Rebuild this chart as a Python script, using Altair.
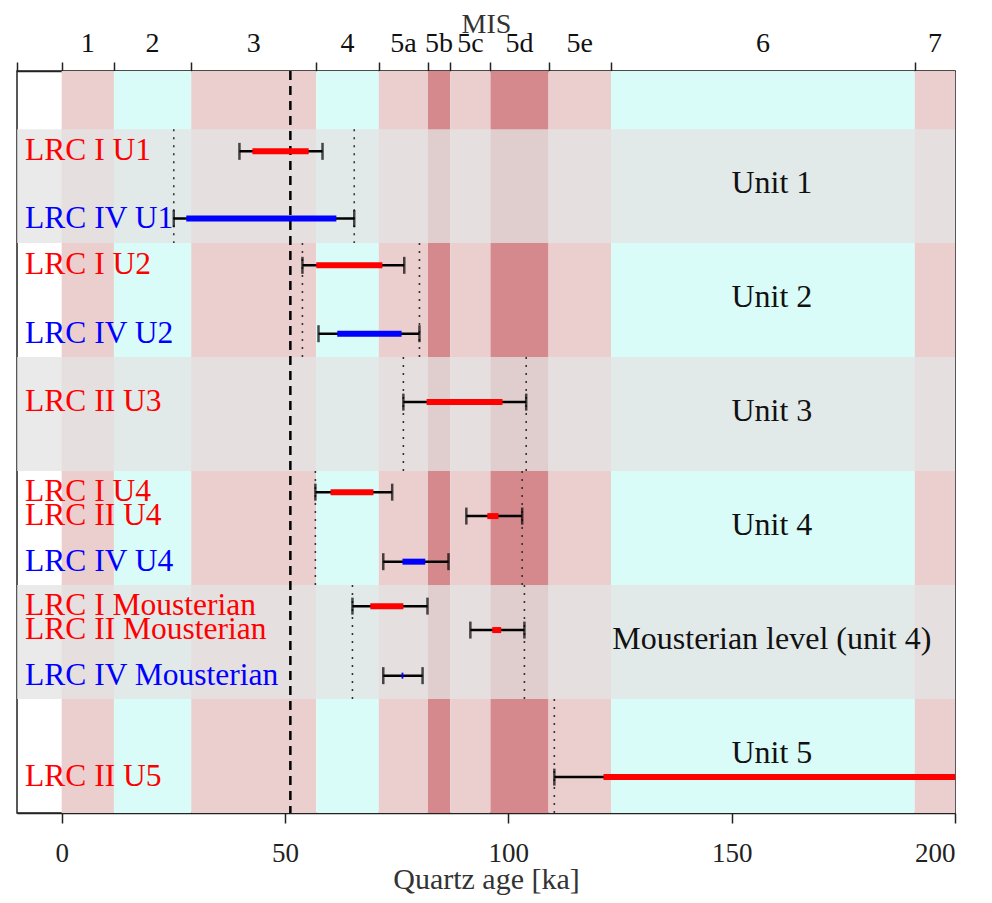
import altair as alt
import pandas as pd

# Marine isotope stages (top axis)
mis_labels = ["1", "2", "3", "4", "5a", "5b", "5c", "5d", "5e", "6", "7"]
mis_start = [0, 11.7, 29, 57, 71, 82, 87, 96, 109, 123, 191]
mis_end = [11.7, 29, 57, 71, 82, 87, 96, 109, 123, 191, 200]
mis_kind = ["warm", "cold", "warm", "cold", "warm", "dark", "warm", "dark", "warm", "cold", "warm"]
mis_ticks = [-10, 0, 11.7, 29, 57, 71, 82, 87, 96, 109, 123, 191]

# Samples
sample_labels = ["LRC I U1", "LRC IV U1", "LRC I U2", "LRC IV U2", "LRC II U3",
                 "LRC I U4", "LRC II U4", "LRC IV U4",
                 "LRC I Mousterian", "LRC II Mousterian", "LRC IV Mousterian",
                 "LRC II U5"]
sample_site = ["I", "IV", "I", "IV", "II", "I", "II", "IV", "I", "II", "IV", "II"]
sample_unit = ["Unit 1", "Unit 1", "Unit 2", "Unit 2", "Unit 3",
               "Unit 4", "Unit 4", "Unit 4",
               "Mousterian level (unit 4)", "Mousterian level (unit 4)", "Mousterian level (unit 4)",
               "Unit 5"]
row_pos = [0.705, 1.295, 1.705, 2.305, 2.905, 3.695, 3.905, 4.305, 4.695, 4.905, 5.305, 6.195]
outer_lo = [39.8, 25.1, 53.9, 57.5, 76.5, 56.8, 90.6, 72.0, 65.1, 91.5, 72.0, 110.3]
outer_hi = [58.4, 65.5, 76.7, 80.1, 104.0, 74.0, 103.1, 86.6, 81.9, 103.6, 80.8, 240.0]
inner_lo = [42.7, 27.9, 57.0, 61.7, 81.7, 60.2, 95.3, 76.3, 69.1, 96.4, 76.1, 121.3]
inner_hi = [55.3, 61.5, 71.8, 76.1, 98.7, 69.8, 97.8, 81.4, 76.5, 98.4, 76.5, 230.0]

# Stratigraphic units (row bands)
units = ["Unit 1", "Unit 2", "Unit 3", "Unit 4", "Mousterian level (unit 4)", "Unit 5"]
unit_top = [0.51, 1.51, 2.51, 3.51, 4.51, 5.51]
unit_bottom = [1.51, 2.51, 3.51, 4.51, 5.51, 6.51]
unit_shaded = ["yes", "no", "yes", "no", "yes", "no"]
unit_label_age = 159

reference_age = [51.2]

mis_df = pd.DataFrame({"label": mis_labels, "start": mis_start, "end": mis_end, "kind": mis_kind})
samples = pd.DataFrame({"label": sample_labels, "site": sample_site, "unit": sample_unit,
                        "row": row_pos, "lo": outer_lo, "hi": outer_hi,
                        "ilo": inner_lo, "ihi": inner_hi})
units_df = pd.DataFrame({"unit": units, "top": unit_top, "bottom": unit_bottom, "shaded": unit_shaded})
units_df["mid"] = (units_df["top"] + units_df["bottom"]) / 2 - 0.03
units_df["age"] = unit_label_age

bounds = samples.groupby("unit").agg(lo=("lo", "min"), hi=("hi", "max")).reset_index()
bounds = bounds.merge(units_df, on="unit")
dotted = pd.concat([
    bounds[["unit", "top", "bottom"]].assign(x=bounds["lo"]),
    bounds[["unit", "top", "bottom"]].assign(x=bounds["hi"]),
])

FONT = "Liberation Serif"
xscale = alt.Scale(domain=[-10, 200], nice=False, zero=False)
yscale = alt.Scale(domain=[0, 6.51], reverse=True, nice=False, zero=False)
site_color = alt.Scale(domain=["I", "II", "IV"], range=["#ff0000", "#ff0000", "#0000ff"])

bands = alt.Chart(mis_df).mark_rect().encode(
    x=alt.X("start:Q", scale=xscale,
            axis=alt.Axis(orient="top", values=mis_ticks, labels=False, tickSize=9,
                          tickWidth=1.5, tickColor="#222", domainColor="#222", domainWidth=1.5,
                          grid=False, title="MIS", titleFont=FONT, titleFontSize=28,
                          titleFontWeight="normal", titleColor="#333",
                          titleY=-39, titleBaseline="alphabetic")),
    x2="end:Q",
    color=alt.Color("kind:N", scale=alt.Scale(domain=["warm", "cold", "dark"],
                                             range=["#ebcfcf", "#dafcf8", "#d5898d"]), legend=None),
)

mis_text = alt.Chart(mis_df).transform_calculate(
    center="(datum.start + datum.end) / 2"
).mark_text(font=FONT, fontSize=28, baseline="alphabetic", color="#111").encode(
    x=alt.X("center:Q", scale=xscale, axis=None),
    y=alt.value(-19),
    text="label:N",
)

shade = alt.Chart(units_df).transform_filter("datum.shaded == 'yes'").mark_rect(
    color="#e3e3e3", opacity=0.76
).encode(
    y=alt.Y("top:Q", scale=yscale, axis=None),
    y2="bottom:Q",
)

dots = alt.Chart(dotted).mark_rule(color="#333", strokeWidth=1.6, strokeDash=[2, 6], clip=True).encode(
    x=alt.X("x:Q", scale=xscale, axis=None),
    y=alt.Y("top:Q", scale=yscale, axis=None),
    y2="bottom:Q",
)

dash = alt.Chart(pd.DataFrame({"age": reference_age})).mark_rule(
    color="black", strokeWidth=2.5, strokeDash=[9, 6]
).encode(
    x=alt.X("age:Q", scale=xscale,
            axis=alt.Axis(orient="bottom", values=[0, 50, 100, 150, 200], tickSize=10,
                          tickWidth=1.5, tickColor="#222", domainColor="#222", domainWidth=1.5,
                          grid=False, labelFont=FONT, labelFontSize=27, labelColor="#222",
                          labelPadding=17, title="Quartz age [ka]", titleFont=FONT,
                          titleFontSize=30, titleFontWeight="normal", titleColor="#333",
                          titleY=75, titleBaseline="alphabetic")),
)

whisk = alt.Chart(samples).mark_rule(color="black", strokeWidth=2.5, clip=True).encode(
    x=alt.X("lo:Q", scale=xscale, axis=None),
    x2="hi:Q",
    y=alt.Y("row:Q", scale=yscale, axis=None),
)

caps = alt.Chart(samples).transform_fold(["lo", "hi"], as_=["end", "val"]).mark_tick(
    color="black", size=17, thickness=2.5, orient="vertical", clip=True
).encode(
    x=alt.X("val:Q", scale=xscale, axis=None),
    y=alt.Y("row:Q", scale=yscale, axis=None),
)

inner = alt.Chart(samples).mark_rule(strokeWidth=6, clip=True).encode(
    x=alt.X("ilo:Q", scale=xscale, axis=None),
    x2="ihi:Q",
    y=alt.Y("row:Q", scale=yscale, axis=None),
    color=alt.Color("site:N", scale=site_color, legend=None),
)

names = alt.Chart(samples).mark_text(font=FONT, fontSize=31.5, align="left", baseline="middle").encode(
    x=alt.value(8),
    y=alt.Y("row:Q", scale=yscale, axis=None),
    text="label:N",
    color=alt.Color("site:N", scale=site_color, legend=None),
)

unit_text = alt.Chart(units_df).mark_text(font=FONT, fontSize=32, baseline="middle", color="#111").encode(
    x=alt.X("age:Q", scale=xscale, axis=None),
    y=alt.Y("mid:Q", scale=yscale, axis=None),
    text="unit:N",
)

chart = alt.layer(
    bands, shade, dots, dash, whisk, caps, inner, names, unit_text, mis_text
).resolve_axis(x="independent").resolve_scale(color="independent").properties(
    width=938, height=742,
    autosize=alt.AutoSizeParams(type="none"),
    padding={"left": 9, "top": 63, "right": 25, "bottom": 82},
).configure_view(stroke="#222", strokeWidth=1.5)

chart.save("out.html", embed_options={"renderer": "svg", "actions": False})
